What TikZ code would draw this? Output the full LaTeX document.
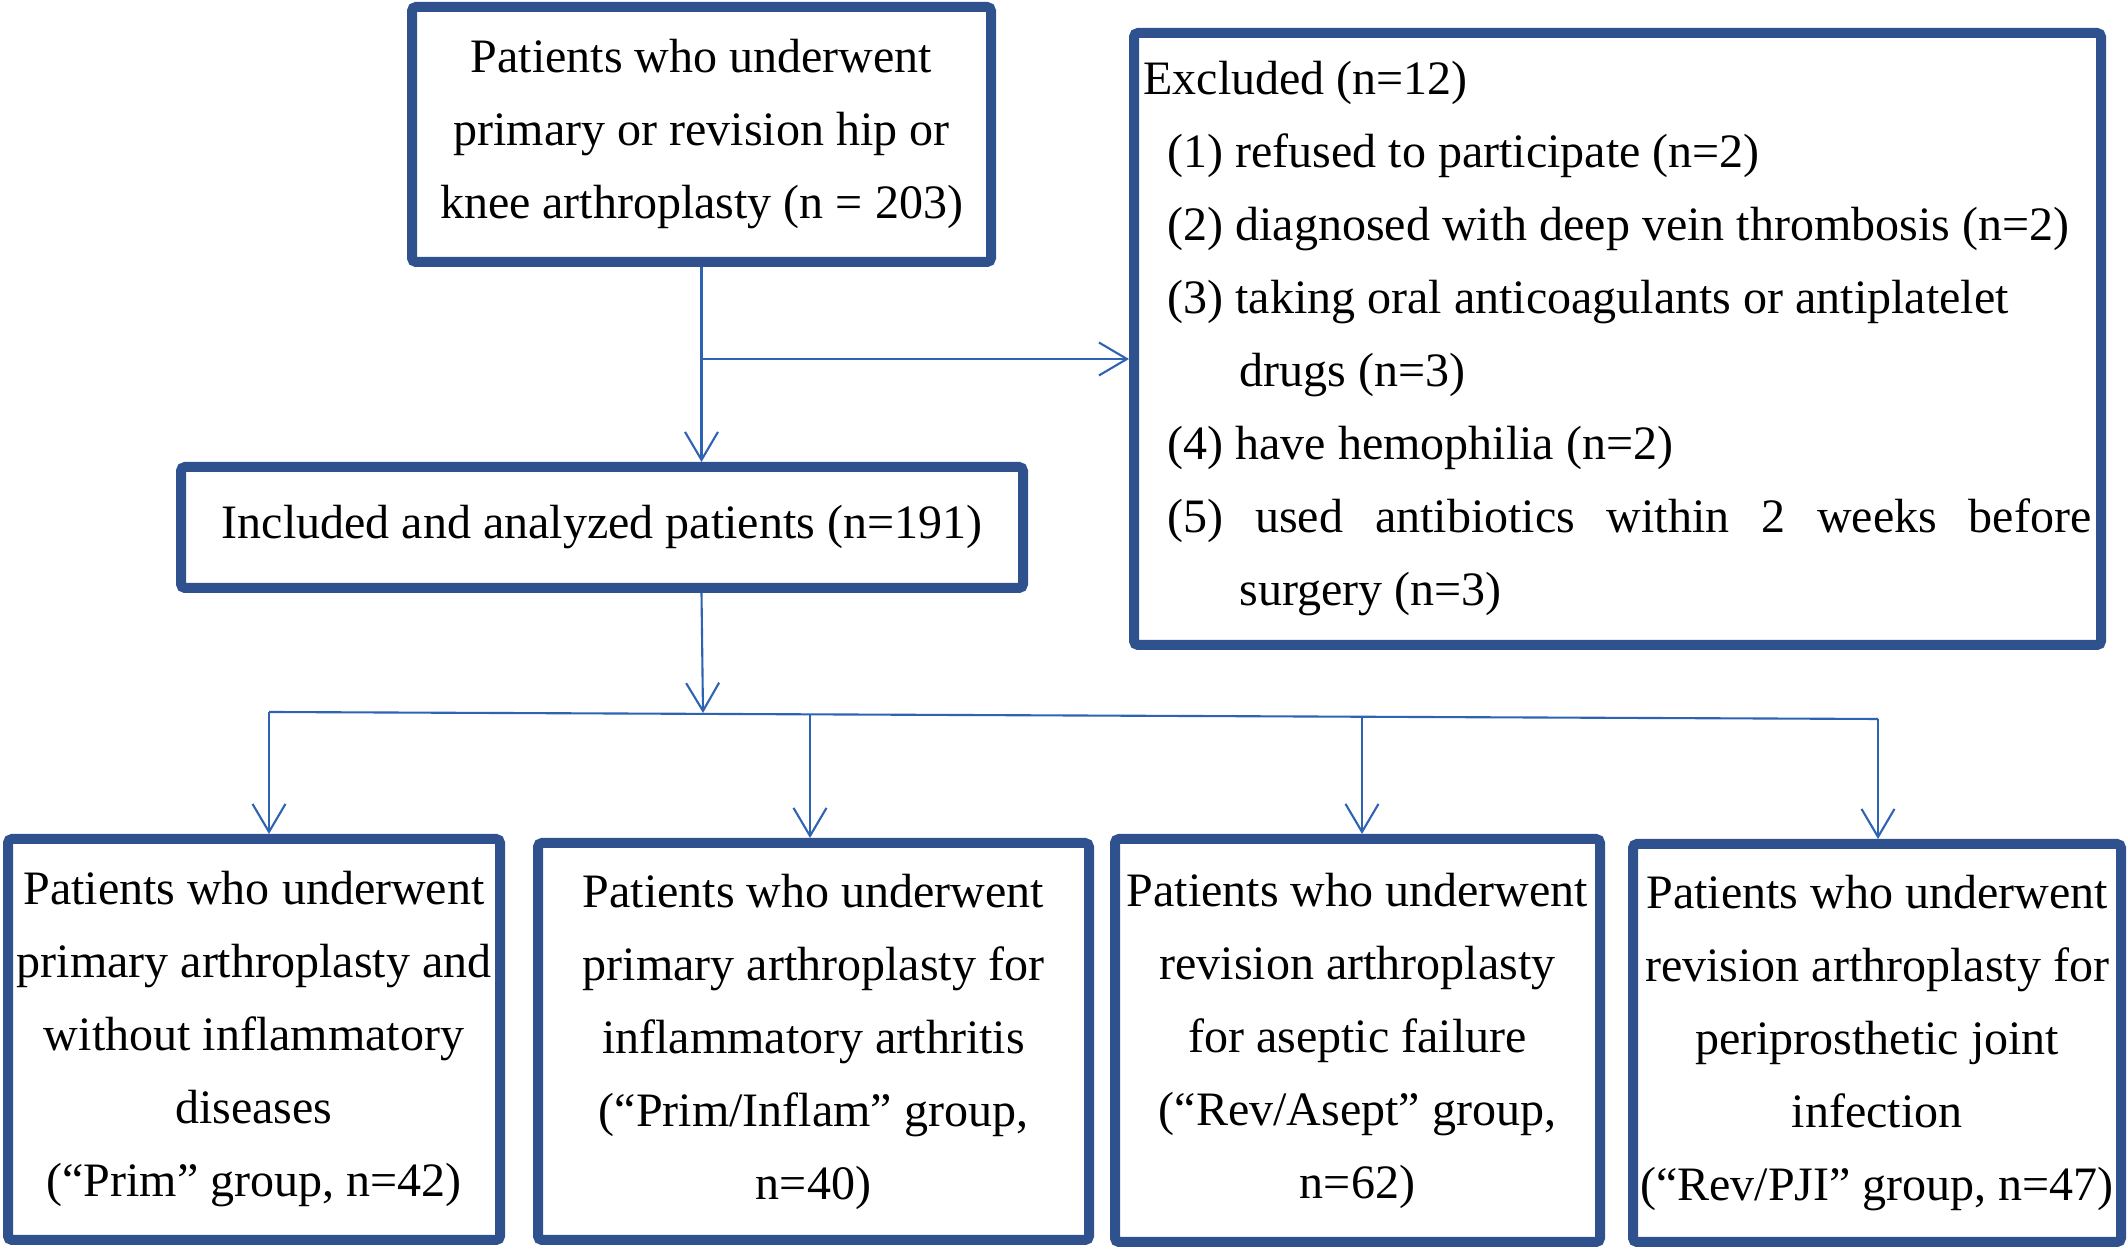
\documentclass[tikz,border=0pt]{standalone}
\usepackage{fontspec}
\setmainfont{Liberation Serif}
\usetikzlibrary{arrows.meta}
\definecolor{boxblue}{RGB}{47,82,143}
\definecolor{arrblue}{RGB}{46,99,180}
\begin{document}
\begin{tikzpicture}[x=0.1mm,y=-0.1mm]
  \tikzset{block/.style={shape=rectangle,draw=boxblue,line width=1mm,rounded corners=0.4mm,inner sep=0pt,align=center,font=\fontsize{13.66pt}{20.77pt}\selectfont}};
  \tikzset{arr/.style={draw=arrblue,line width=0.6pt,-{Straight Barb[length=2.8mm,width=3.3mm]}}};
  \useasboundingbox (0,0) rectangle (2128,1250);
  \node[block,minimum width=57.9mm,minimum height=25.5mm](Tot) at (701.5,134.5){Patients who underwent\\primary or revision hip or\\knee arthroplasty (n = 203)};
  \node[block,align=left,minimum width=96.7mm,minimum height=61.2mm](Exc) at (1617.5,339){Excluded (n=12)\\
    \hspace*{2.4mm}(1) refused to participate (n=2)\\
    \hspace*{2.4mm}(2) diagnosed with deep vein thrombosis (n=2)\\
    \hspace*{2.4mm}(3) taking oral anticoagulants or antiplatelet\\
    \hspace*{9.6mm}drugs (n=3)\\
    \hspace*{2.4mm}(4) have hemophilia (n=2)\\
    \hspace*{2.4mm}\hbox to 92.4mm{(5)\hfill used\hfill antibiotics\hfill within\hfill 2\hfill weeks\hfill before}\\
    \hspace*{9.6mm}surgery (n=3)};
  \node[block,minimum width=84.2mm,minimum height=12.1mm](Inc) at (602,527.5){Included and analyzed patients (n=191)};
  \node[block,minimum width=49.2mm,minimum height=40.1mm](Prim) at (254,1039.5){Patients who underwent\\primary arthroplasty and\\without inflammatory\\diseases\\(“Prim” group, n=42)};
  \node[block,minimum width=55.1mm,minimum height=39.7mm](PrimInf) at (813.5,1041.5){Patients who underwent\\primary arthroplasty for\\inflammatory arthritis\\(“Prim/Inflam” group,\\n=40)};
  \node[block,minimum width=48.5mm,minimum height=40.3mm](RevAse) at (1357.5,1040.5){Patients who underwent\\revision arthroplasty\\for aseptic failure\\(“Rev/Asept” group,\\n=62)};
  \node[block,minimum width=48.8mm,minimum height=39.8mm](RevPJI) at (1877,1043){Patients who underwent\\revision arthroplasty for\\periprosthetic joint\\infection\\(“Rev/PJI” group, n=47)};
  \coordinate (Br) at (702,359);
  \coordinate (Mid) at (703,713);
  \coordinate (S1) at (269,712);
  \coordinate (S2) at (810,714);
  \coordinate (S3) at (1362,717);
  \coordinate (S4) at (1878,719);
  \draw[arr] (Tot.south) -- (Tot.south |- Inc.north);
  \draw[arr] (Br) -- (Br -| Exc.west);
  \draw[arr] (Tot.south |- Inc.south) -- (Mid);
  \draw[arrblue,line width=0.6pt] (S1) -- (S4);
  \draw[arr] (S1) -- (S1 |- Prim.north);
  \draw[arr] (S2) -- (S2 |- PrimInf.north);
  \draw[arr] (S3) -- (S3 |- RevAse.north);
  \draw[arr] (S4) -- (S4 |- RevPJI.north);
\end{tikzpicture}
\end{document}
